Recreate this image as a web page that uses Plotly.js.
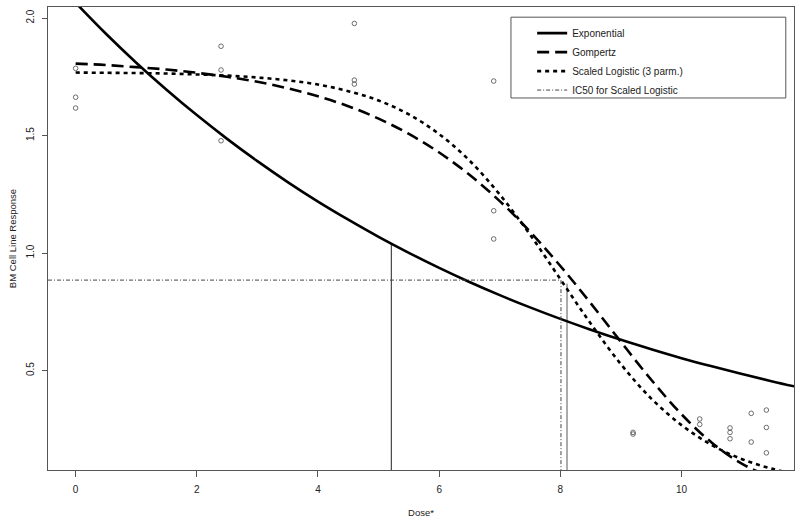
<!DOCTYPE html>
<html>
<head>
<meta charset="utf-8">
<script src="https://cdn.plot.ly/plotly-3.0.1.min.js"></script>
<style>html,body{margin:0;padding:0;background:#fff;}#chart{width:800px;height:522px;}</style>
</head>
<body>
<div id="chart"></div>
<script>
// Observed responses
const doseObs = [0,0,0, 2.4,2.4,2.4, 4.6,4.6,4.6, 6.9,6.9,6.9, 9.2,9.2, 10.3,10.3, 10.8,10.8,10.8, 11.15,11.15, 11.4,11.4,11.4];
const respObs = [1.786,1.663,1.617, 1.88,1.779,1.478, 1.977,1.736,1.719, 1.732,1.18,1.06, 0.237,0.23, 0.294,0.271, 0.256,0.237,0.21, 0.318,0.196, 0.332,0.258,0.15];

// Fitted curves
const curveDose = [0,0.5,1,1.5,2,2.5,3,3.5,4,4.5,5,5.5,6,6.5,7,7.5,8,8.5,9,9.5,10,10.5,11,11.5,12];
const expFit = [2.065,1.933,1.810,1.695,1.587,1.486,1.391,1.302,1.219,1.142,1.069,1.001,0.937,0.877,0.821,0.769,0.720,0.674,0.631,0.591,0.553,0.518,0.485,0.454,0.425];
const gompFit = [1.806,1.800,1.791,1.781,1.767,1.750,1.729,1.701,1.667,1.625,1.572,1.507,1.428,1.333,1.221,1.091,0.945,0.787,0.622,0.461,0.314,0.193,0.103,0.047,0.017];
const logiFit = [1.768,1.767,1.766,1.764,1.760,1.755,1.747,1.735,1.717,1.689,1.649,1.590,1.506,1.394,1.249,1.078,0.889,0.700,0.527,0.381,0.268,0.183,0.123,0.082,0.054];

// Reference lines
const ic50Dose = 8.01, ic50Resp = 0.885;
const expMarkDose = 5.21, expMarkResp = 1.04;
const gompMarkDose = 8.11, gompMarkResp = 0.87;
const xRange = [-0.456, 11.856];
const yRange = [0.077, 2.047];

const legendNames = ["Exponential","Gompertz","Scaled Logistic (3 parm.)","IC50 for Scaled Logistic"];
const xTicks = [0,2,4,6,8,10];
const yTicks = [0.5,1.0,1.5,2.0];

const font = "Liberation Sans, Arial, Helvetica, sans-serif";

const traces = [
  {x: doseObs, y: respObs, mode: "markers", type: "scatter", showlegend: false,
   marker: {symbol: "circle-open", size: 4.6, color: "#333", line: {width: 0.7, color: "#333"}}},
  {x: [expMarkDose, expMarkDose], y: [yRange[0], expMarkResp], mode: "lines", showlegend: false,
   line: {color: "#222", width: 1}},
  {x: [gompMarkDose, gompMarkDose], y: [yRange[0], gompMarkResp], mode: "lines", showlegend: false,
   line: {color: "#aaaaaa", width: 2}},
  {x: curveDose, y: expFit, mode: "lines", name: legendNames[0], line: {color: "#000", width: 2.6, shape: "spline"}},
  {x: curveDose, y: gompFit, mode: "lines", name: legendNames[1], line: {color: "#000", width: 2.6, dash: "12px,6px", shape: "spline"}},
  {x: curveDose, y: logiFit, mode: "lines", name: legendNames[2], line: {color: "#000", width: 2.6, dash: "4px,4px", shape: "spline"}},
  {x: [xRange[0], ic50Dose, ic50Dose], y: [ic50Resp, ic50Resp, yRange[0]], mode: "lines", name: legendNames[3],
   line: {color: "#444", width: 1, dash: "4px,2px,1px,2px"}}
];

const layout = {
  width: 800, height: 522,
  margin: {l: 48, r: 6, t: 7, b: 52},
  paper_bgcolor: "#fff", plot_bgcolor: "#fff",
  font: {family: font, size: 10, color: "#222"},
  showlegend: true,
  legend: {x: 0.649, y: 0.975, xanchor: "left", yanchor: "top", bgcolor: "rgba(0,0,0,0)",
           borderwidth: 0, font: {family: font, size: 10, color: "#222"}, itemwidth: 30},
  shapes: [{type: "rect", xref: "paper", yref: "paper", x0: 0.6206, x1: 0.989, y0: 0.8035, y1: 0.978,
            line: {color: "#555", width: 1}, fillcolor: "rgba(0,0,0,0)"}],
  xaxis: {range: xRange, tickvals: xTicks, ticks: "outside", ticklen: 6, tickcolor: "#555",
          ticklabelstandoff: 4,
          showline: true, linecolor: "#555", linewidth: 1, mirror: true, showgrid: false, zeroline: false,
          tickfont: {family: font, size: 10, color: "#222"},
          title: {text: "Dose*", font: {family: font, size: 9.5, color: "#222"}, standoff: 15}},
  yaxis: {range: yRange, tickvals: yTicks, tickformat: ".1f", ticks: "outside", ticklen: 5, tickcolor: "#555",
          tickangle: -90, ticklabelstandoff: 4,
          showline: true, linecolor: "#555", linewidth: 1, mirror: true, showgrid: false, zeroline: false,
          tickfont: {family: font, size: 10, color: "#222"},
          title: {text: "BM Cell Line Response", font: {family: font, size: 9.5, color: "#222"}, standoff: 6}}
};

Plotly.newPlot("chart", traces, layout, {displayModeBar: false, staticPlot: true});
</script>
</body>
</html>
